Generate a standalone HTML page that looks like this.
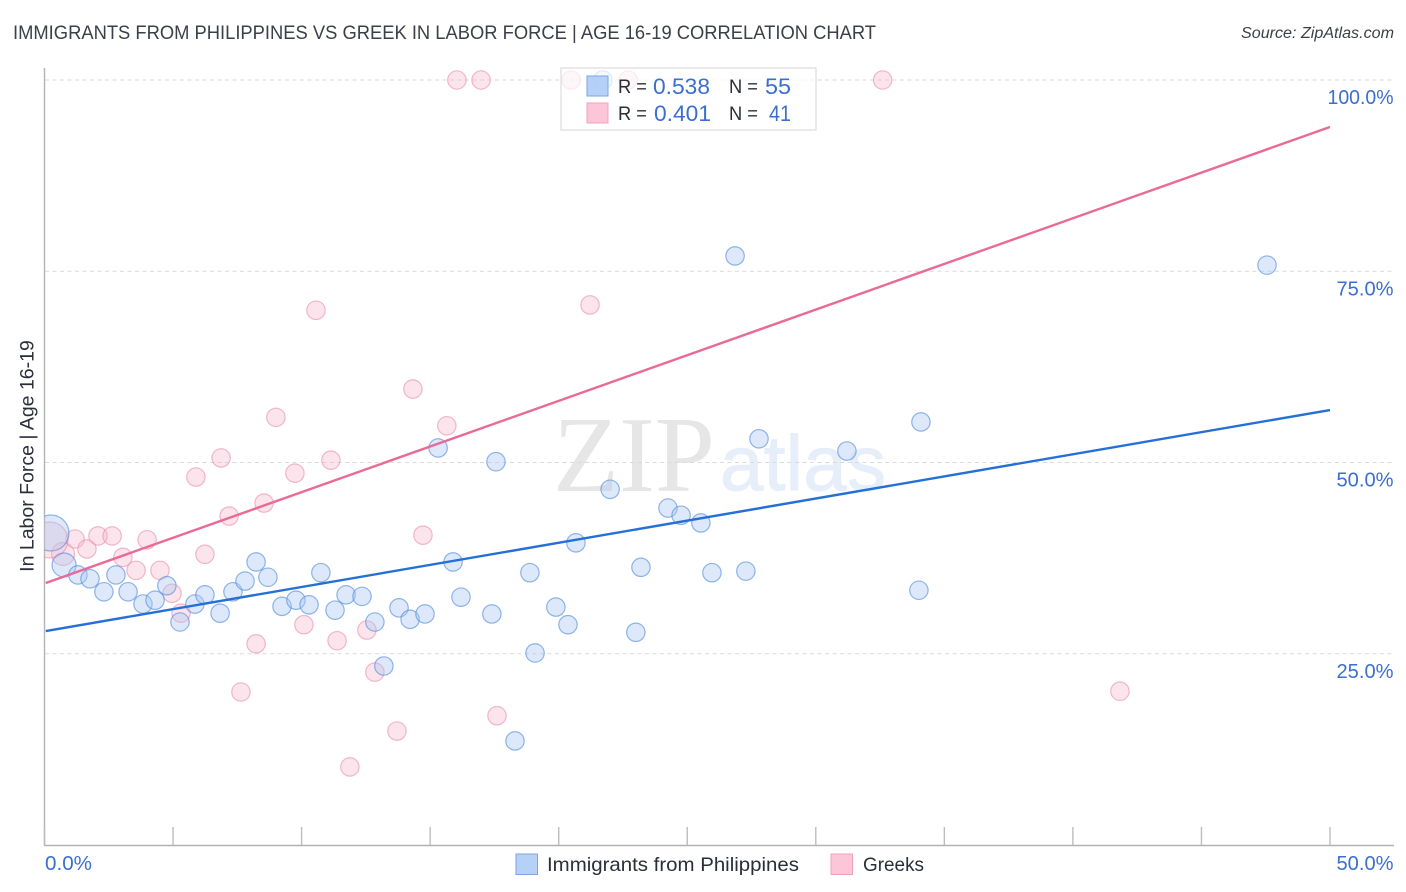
<!DOCTYPE html>
<html lang="en">
<head>
<meta charset="utf-8">
<title>Immigrants from Philippines vs Greek in Labor Force Correlation Chart</title>
<style>
html,body{margin:0;padding:0;background:#fff;width:1406px;height:892px;overflow:hidden}
svg{display:block;font-family:"Liberation Sans",sans-serif}
.tick{fill:#3a6fd0;font-size:20px}
.dark{fill:#2a2e38;font-size:19.5px}
.blue{fill:#3a6fd0;font-size:22px}
</style>
</head>
<body>
<svg id="chart" width="1406" height="892" viewBox="0 0 1406 892" xmlns="http://www.w3.org/2000/svg">
  <defs>
    <clipPath id="plot-clip"><rect x="44.5" y="60" width="1350" height="786"/></clipPath>
  </defs>
  <text x="13" y="39" font-size="19.5" fill="#3c3f47" textLength="863" lengthAdjust="spacingAndGlyphs">IMMIGRANTS FROM PHILIPPINES VS GREEK IN LABOR FORCE | AGE 16-19 CORRELATION CHART</text>
  <text x="1241" y="38" font-size="15.5" font-style="italic" fill="#3c3f47" textLength="153" lengthAdjust="spacingAndGlyphs">Source: ZipAtlas.com</text>
  <g>
    <text x="553" y="491" font-family="'Liberation Serif',serif" font-size="108" fill="#e6e6e6" textLength="162" lengthAdjust="spacingAndGlyphs">ZIP</text>
    <text x="720" y="490" font-family="'Liberation Sans',sans-serif" font-size="78" fill="#e6eefa" stroke="#e6eefa" stroke-width="1" textLength="166" lengthAdjust="spacing">atlas</text>
  </g>
  <g id="grid"></g>
  <g id="axes"></g>
  <g id="pink-points" clip-path="url(#plot-clip)"></g>
  <g id="blue-points" clip-path="url(#plot-clip)"></g>
  <g id="trends"></g>
  <text transform="translate(33.5,456) rotate(-90)" text-anchor="middle" font-size="19.5" fill="#2a2e38">In Labor Force | Age 16-19</text>
  <g>
    <rect x="561" y="68" width="255" height="62" fill="#fff" fill-opacity="0.7" stroke="#dddddd" stroke-width="1.2"/>
    <rect x="587" y="76" width="21" height="20" fill="#a9c9f7" fill-opacity="0.85" stroke="#7ba6e0" stroke-width="1"/>
    <rect x="587" y="103" width="21" height="20" fill="#fcc6d8" stroke="#f0a2bc" stroke-width="1"/>
    <text class="dark" x="618" y="93" textLength="29" lengthAdjust="spacingAndGlyphs">R =</text>
    <text class="blue" x="653" y="94" textLength="57" lengthAdjust="spacingAndGlyphs">0.538</text>
    <text class="dark" x="729" y="93" textLength="29" lengthAdjust="spacingAndGlyphs">N =</text>
    <text class="blue" x="765" y="94" textLength="26" lengthAdjust="spacingAndGlyphs">55</text>
    <text class="dark" x="618" y="120" textLength="29" lengthAdjust="spacingAndGlyphs">R =</text>
    <text class="blue" x="654" y="121" textLength="57" lengthAdjust="spacingAndGlyphs">0.401</text>
    <text class="dark" x="729" y="120" textLength="29" lengthAdjust="spacingAndGlyphs">N =</text>
    <text class="blue" x="769" y="121" textLength="22" lengthAdjust="spacingAndGlyphs">41</text>
  </g>
  <g>
    <rect x="516" y="854" width="21.5" height="20.5" fill="#b5d1f7" stroke="#7ba6e0" stroke-width="1"/>
    <text x="547" y="871" font-size="19.5" fill="#2a2e38" textLength="252" lengthAdjust="spacingAndGlyphs">Immigrants from Philippines</text>
    <rect x="831" y="854" width="21.5" height="20.5" fill="#fcc6d8" stroke="#f0a2bc" stroke-width="1"/>
    <text x="863" y="871" font-size="19.5" fill="#2a2e38" textLength="61" lengthAdjust="spacingAndGlyphs">Greeks</text>
  </g>
</svg>
<script>
const yTickValues = [25, 50, 75, 100];
const yTickLabels = ["25.0%", "50.0%", "75.0%", "100.0%"];
const xTickValues = [0, 5, 10, 15, 20, 25, 30, 35, 40, 45, 50];
const xEndLabels = ["0.0%", "50.0%"];

const blueX = [0.76,1.30,1.77,2.31,2.78,3.25,3.83,4.30,4.76,5.27,5.85,6.24,6.83,7.33,7.80,8.23,8.69,9.24,9.78,10.29,10.75,11.30,11.73,12.35,12.85,13.2,13.79,14.22,14.80,15.31,15.89,16.2,17.4,17.56,18.3,18.88,19.08,19.89,20.36,20.67,21.72,22.0,23.0,23.2,24.25,24.76,25.53,25.96,26.86,27.28,27.79,31.21,34.01,34.09,47.55];
const blueY = [36.6,35.3,34.8,33.1,35.3,33.1,31.5,32.0,33.9,29.15,31.5,32.7,30.3,33.1,34.5,37.0,35.0,31.2,32.0,31.4,35.6,30.7,32.7,32.5,29.15,23.4,31.0,29.5,30.2,51.9,37.0,32.4,30.2,50.1,13.6,35.6,25.1,31.1,28.8,39.5,100,46.5,27.8,36.3,44.05,43.1,42.1,35.6,77.0,35.8,53.1,51.5,33.3,55.3,75.8];
const pinkX = [0.72,1.19,1.65,2.08,2.63,3.05,3.56,3.99,4.49,4.96,5.31,5.89,6.24,6.87,7.18,7.64,8.23,8.54,9.0,9.74,10.09,10.56,11.14,11.38,11.88,12.54,12.85,13.71,14.33,14.72,15.65,16.04,16.98,17.6,20.48,21.22,22.7,32.6,41.83];
const pinkY = [38.04,40.0,38.7,40.4,40.4,37.6,35.9,39.9,35.9,32.9,30.3,48.1,38.0,50.6,43.0,20.0,26.3,44.7,55.9,48.6,28.8,69.9,50.3,26.7,10.2,28.1,22.6,14.9,59.6,40.5,54.8,100,100,16.9,100,70.6,100,100,20.1];

const blueLargeX = [0.25];
const blueLargeY = [40.78];
const pinkLargeX = [0.21];
const pinkLargeY = [39.87];

const blueTrendEnds = [27.97, 56.86];
const pinkTrendEnds = [34.25, 93.86];
const trendDomain = [0.05, 50];

const NS = "http://www.w3.org/2000/svg";
function xScale(v) { return 44.5 + v * 25.71; }
function yScale(v) { return 845 - v * 7.65; }
function labelWidth(s) { return s.length === 4 ? 47 : s.length === 5 ? 57 : 66; }

function make(tag, attrs, parent) {
  const el = document.createElementNS(NS, tag);
  for (const k in attrs) el.setAttribute(k, attrs[k]);
  parent.appendChild(el);
  return el;
}

const grid = document.getElementById("grid");
const axes = document.getElementById("axes");
const pinkG = document.getElementById("pink-points");
const blueG = document.getElementById("blue-points");
const trends = document.getElementById("trends");

yTickValues.forEach(function (v, i) {
  const y = yScale(v);
  const line = make("line", {x1: 45, x2: 1394, y1: y, y2: y, stroke: "#dadada", "stroke-width": 1, "stroke-dasharray": "4 3.5"}, grid);
  
  
  const w = labelWidth(yTickLabels[i]);
  const label = make("text", {x: 1393.5 - w, y: y + 24, textLength: w, lengthAdjust: "spacingAndGlyphs", "class": "tick"}, axes);
  label.textContent = yTickLabels[i];
  
  
});

const yAxis = make("line", {x1: 44.5, x2: 44.5, y1: 68, y2: 845.5, stroke: "#b3b3b3", "stroke-width": 1.4}, axes);


const xAxis = make("line", {x1: 44, x2: 1394, y1: 845.5, y2: 845.5, stroke: "#b3b3b3", "stroke-width": 1.4}, axes);



xTickValues.forEach(function (v) {
  const x = xScale(v);
  const tick = make("line", {x1: x, x2: x, y1: 827, y2: 845, stroke: "#bdbdbd", "stroke-width": 1.4}, axes);
  
  
});

const xLabelLeft = make("text", {x: 45, y: 870, textLength: labelWidth(xEndLabels[0]), lengthAdjust: "spacingAndGlyphs", "class": "tick"}, axes);
xLabelLeft.textContent = xEndLabels[0];


const xLabelRight = make("text", {x: 1393.5 - labelWidth(xEndLabels[1]), y: 870, textLength: labelWidth(xEndLabels[1]), lengthAdjust: "spacingAndGlyphs", "class": "tick"}, axes);
xLabelRight.textContent = xEndLabels[1];



function dot(parent, x, y, r, fill, stroke, fo) {
  return make("circle", {cx: xScale(x), cy: yScale(y), r: r, fill: fill, "fill-opacity": fo, stroke: stroke, "stroke-opacity": 0.62, "stroke-width": 1.2}, parent);
}

pinkX.forEach(function (x, i) {
  const r = i === 0 ? 11.5 : 9.2;
  const c = dot(pinkG, x, pinkY[i], r, "#f7b4c9", "#e890ae", 0.36);
  
  
});
pinkLargeX.forEach(function (x, i) {
  const c = dot(pinkG, x, pinkLargeY[i], 18, "#f7b4c9", "#e890ae", 0.36);
  
  
});
blueX.forEach(function (x, i) {
  const r = i === 0 ? 12 : 9.2;
  const c = dot(blueG, x, blueY[i], r, "#a9c9f2", "#4f8bdc", 0.4);
  
  
});
blueLargeX.forEach(function (x, i) {
  const c = dot(blueG, x, blueLargeY[i], 18, "#a9c9f2", "#4f8bdc", 0.4);
  
  
});

const blueLine = make("line", {x1: xScale(trendDomain[0]), x2: xScale(trendDomain[1]), y1: yScale(blueTrendEnds[0]), y2: yScale(blueTrendEnds[1]), stroke: "#2470d8", "stroke-width": 2.4}, trends);


const pinkLine = make("line", {x1: xScale(trendDomain[0]), x2: xScale(trendDomain[1]), y1: yScale(pinkTrendEnds[0]), y2: yScale(pinkTrendEnds[1]), stroke: "#ea6a97", "stroke-width": 2.4}, trends);


</script>
</body>
</html>
